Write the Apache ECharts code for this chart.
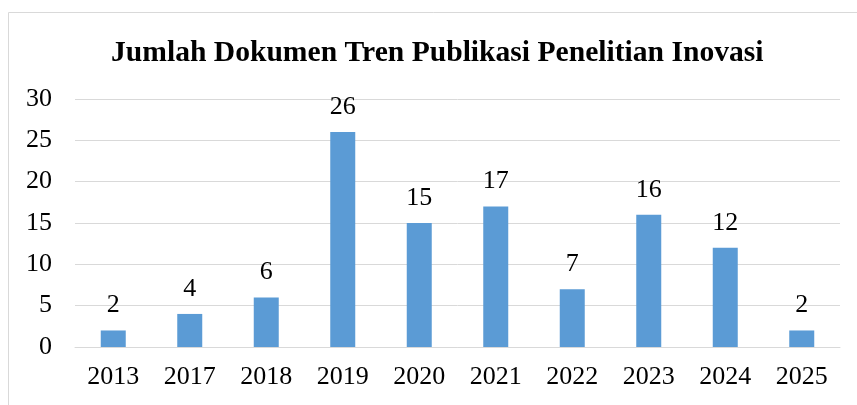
<!DOCTYPE html>
<html>
<head>
<meta charset="utf-8">
<script src="https://cdn.jsdelivr.net/npm/echarts@6/dist/echarts.min.js"></script>
<style>
html,body{margin:0;padding:0;background:#fff;}
#chart{width:857px;height:405px;}
</style>
</head>
<body>
<div id="chart"></div>
<script>
var years = ['2013','2017','2018','2019','2020','2021','2022','2023','2024','2025'];
var docCount = [2,4,6,26,15,17,7,16,12,2];
var yTicks = [0,5,10,15,20,25,30];

var font = '"Liberation Serif","Times New Roman",serif';
var chart = echarts.init(document.getElementById('chart'));
chart.setOption({
  animation: false,
  title: {
    text: 'Jumlah Dokumen Tren Publikasi Penelitian Inovasi',
    left: 106, top: 33,
    textStyle: {fontFamily: font, fontSize: 29.6, fontWeight: 'bold', color: '#000'}
  },
  graphic: [{
    type: 'rect', shape: {x: 8.5, y: 12.5, width: 900, height: 500},
    style: {fill: 'none', stroke: '#d9d9d9', lineWidth: 1}, silent: true
  }],
  grid: {left: 75, right: 17, top: 99, bottom: 58},
  xAxis: {
    type: 'category', data: years,
    axisLine: {lineStyle: {color: '#d9d9d9', width: 1}},
    axisTick: {show: false},
    axisLabel: {fontFamily: font, fontSize: 26, color: '#000', margin: 17}
  },
  yAxis: {
    type: 'value', min: yTicks[0], max: yTicks[yTicks.length-1], interval: 5,
    axisLine: {show: false}, axisTick: {show: false},
    splitLine: {lineStyle: {color: '#d9d9d9', width: 1}},
    axisLabel: {fontFamily: font, fontSize: 26, color: '#000', margin: 23}
  },
  series: [{
    type: 'bar', data: docCount, barWidth: 25,
    itemStyle: {color: '#5b9bd5'},
    label: {show: true, position: 'top', distance: 12, fontFamily: font, fontSize: 26, color: '#000'}
  }]
});
</script>
</body>
</html>
